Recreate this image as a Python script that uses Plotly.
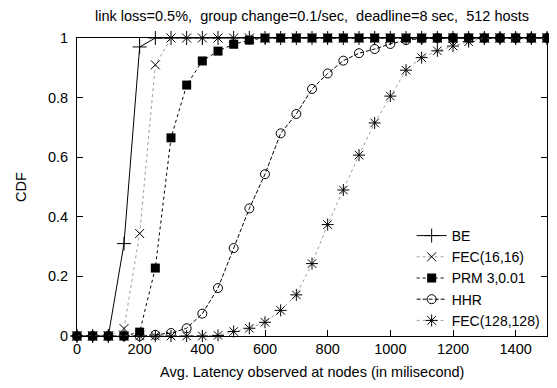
import plotly.graph_objects as go

latency_ms = list(range(0, 1501, 50))

be = [0, 0, 0, 0.31, 0.97] + [1.0] * 26
fec16 = [0, 0, 0, 0.025, 0.344, 0.91] + [1.0] * 25
prm = [0, 0, 0, 0, 0.013, 0.228, 0.665, 0.842, 0.923, 0.956, 0.979, 0.993] + [1.0] * 19
hhr = [0, 0, 0, 0, 0, 0.004, 0.01, 0.026, 0.075, 0.161, 0.295, 0.428, 0.543, 0.68,
       0.745, 0.829, 0.881, 0.924, 0.949, 0.963, 0.98, 0.993, 0.998] + [1.0] * 8
fec128 = [0, 0, 0, 0, 0, 0, 0, 0, 0, 0.002, 0.015, 0.026, 0.046, 0.086, 0.138, 0.243,
          0.374, 0.49, 0.607, 0.715, 0.805, 0.892, 0.934, 0.957, 0.973, 0.988] + [1.0] * 5

series_names = ["BE", "FEC(16,16)", "PRM 3,0.01", "HHR", "FEC(128,128)"]
x_ticks = [0, 200, 400, 600, 800, 1000, 1200, 1400]
y_ticks = [0, 0.2, 0.4, 0.6, 0.8, 1]
y_tick_text = ["0", "0.2", "0.4", "0.6", "0.8", "1"]

title_text = "link loss=0.5%,\u00a0 group change=0.1/sec,\u00a0 deadline=8 sec,\u00a0 512 hosts"
x_title = "Avg. Latency observed at nodes (in milisecond)"
y_title = "CDF"

FONT = "Liberation Sans"

styles = [
    dict(line=dict(color="black", width=1, dash="solid"),
         marker=dict(symbol="cross-thin-open", size=10, color="black", line=dict(color="black", width=1))),
    dict(line=dict(color="#a0a0a0", width=1, dash="dot"),
         marker=dict(symbol="x-thin-open", size=9, color="black", line=dict(color="#222", width=1))),
    dict(line=dict(color="black", width=1, dash="dot"),
         marker=dict(symbol="square", size=9, color="black", line=dict(color="black", width=0))),
    dict(line=dict(color="black", width=1, dash="4px,2px"),
         marker=dict(symbol="circle-open", size=9, color="black", line=dict(color="black", width=1))),
    dict(line=dict(color="#a0a0a0", width=1, dash="dot"),
         marker=dict(symbol="asterisk-open", size=10, color="black", line=dict(color="#111", width=1))),
]

fig = go.Figure()
for name, ys, st in zip(series_names, [be, fec16, prm, hhr, fec128], styles):
    fig.add_trace(go.Scatter(
        x=latency_ms, y=ys, name=name, mode="lines+markers",
        line=st["line"], marker=st["marker"], cliponaxis=False,
    ))

axis_common = dict(
    showline=True, linecolor="black", linewidth=1, mirror="ticks",
    ticks="inside", ticklen=6, tickcolor="black", tickwidth=1,
    showgrid=False, zeroline=False, automargin=False,
    tickfont=dict(family=FONT, size=14.5, color="black"),
)

# page is offset by the 8px default body margin
W, H = 549, 380
fig.update_layout(
    width=W, height=H,
    margin=dict(l=69, r=10, t=30, b=52),
    paper_bgcolor="white", plot_bgcolor="white",
    font=dict(family=FONT, size=15, color="black"),
    title=dict(text=title_text, xref="paper", x=0.5, xanchor="center",
               yref="container", y=1 - 3 / H, yanchor="top", pad=dict(t=0, b=0),
               font=dict(family=FONT, size=14.5, color="black")),
    xaxis=dict(range=[0, 1500], tickvals=x_ticks, ticklabelstandoff=0, **axis_common),
    yaxis=dict(range=[0, 1], tickvals=y_ticks, ticktext=y_tick_text, ticklabelstandoff=5, **axis_common),
    showlegend=True,
    legend=dict(x=0.995, xanchor="right", y=0.0, yanchor="bottom",
                bgcolor="rgba(255,255,255,0)", borderwidth=0,
                font=dict(family=FONT, size=14), tracegroupgap=0, itemwidth=30),
    annotations=[
        dict(text=x_title, xref="paper", yref="paper", x=0.5, y=-36 / 298,
             xanchor="center", yanchor="middle", showarrow=False,
             font=dict(family=FONT, size=14.5, color="black")),
        dict(text=y_title, xref="paper", yref="paper", x=-56 / 470, y=0.5,
             xanchor="center", yanchor="middle", showarrow=False, textangle=-90,
             font=dict(family=FONT, size=14.5, color="black")),
    ],
)

fig.write_html("out.html")
